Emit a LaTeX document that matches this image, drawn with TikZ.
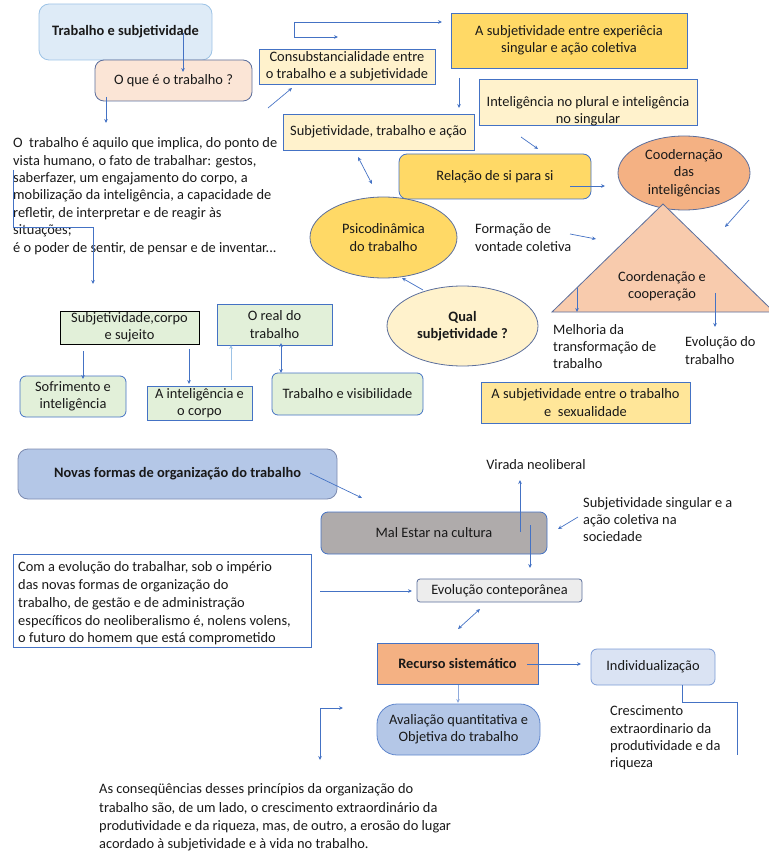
\documentclass[tikz,border=0pt]{standalone}
\usepackage{fontspec}
\setmainfont{Carlito}
\usetikzlibrary{shapes.geometric,arrows.meta}
\definecolor{arrowblue}{HTML}{4472C4}
\definecolor{paleline}{HTML}{9DC3E6}
\definecolor{slate}{HTML}{5B6E9C}
\definecolor{paleblue}{HTML}{DEEBF7}
\definecolor{peach}{HTML}{FBE5D6}
\definecolor{cream}{HTML}{FFF2CC}
\definecolor{gold}{HTML}{FFD966}
\definecolor{lightgold}{HTML}{FFE699}
\definecolor{salmon}{HTML}{F4B183}
\definecolor{lightsalmon}{HTML}{F8CBAD}
\definecolor{mint}{HTML}{E2F0D9}
\definecolor{steel}{HTML}{B4C7E7}
\definecolor{ice}{HTML}{DAE3F3}
\definecolor{stone}{HTML}{AFABAB}
\definecolor{smoke}{HTML}{EDEDED}
\newcommand\fs{\fontsize{14.4}{17.4}\selectfont}
\newcommand\fsb{\fontsize{14.4}{17.75}\selectfont}
\newcommand\fsc{\fontsize{14.4}{18.3}\selectfont}
\tikzset{
  txt/.style={font=\fs, inner sep=0pt, text=black!90},
  box/.style={draw=arrowblue, line width=0.8pt, font=\fs, align=center, inner sep=1pt, text=black!90},
  ybox/.style={box, fill=cream},
  gbox/.style={box, fill=mint},
  rbox/.style={box, rounded corners=#1},
  rbox/.default=7pt,
  oval/.style={box, ellipse, inner sep=0pt},
  link/.style={draw=arrowblue, line width=0.7pt, -{Stealth[length=4pt,width=3.6pt]}},
  twoway/.style={link, {Stealth[length=4pt,width=3.6pt]}-{Stealth[length=4pt,width=3.6pt]}},
  plain/.style={draw=arrowblue, line width=0.8pt}
}
\begin{document}
\begin{tikzpicture}[x=1pt,y=-1pt]
  \useasboundingbox (0,0) rectangle (768,866);
  % upper half
  \node[rbox=10pt, fill=paleblue, draw=paleline, minimum width=173, minimum height=56, font=\fs\bfseries] (trab) at (125.5,32) {Trabalho e subjetividade};
  \node[rbox=9pt, fill=peach, draw=slate, minimum width=157, minimum height=41] (oque) at (173.5,80.5) {O que é o trabalho ?};
  \node[txt, align=left, anchor=west] (defin) at (13,196) {O\ \ trabalho é aquilo que implica, do ponto de\\vista humano, o fato de trabalhar: gestos,\\saberfazer, um engajamento do corpo, a\\mobilização da inteligência, a capacidade de\\refletir, de interpretar e de reagir às\\situações;\\é o poder de sentir, de pensar e de inventar...};
  \node[ybox, minimum width=176, minimum height=35] (consub) at (347,66.5) {Consubstancialidade entre\\o trabalho e a subjetividade};
  \node[box, fill=gold, minimum width=236, minimum height=55] (asub) at (569,40.5) {A subjetividade entre experiêcia\\singular e ação coletiva};
  \node[ybox, minimum width=218, minimum height=46] (intel) at (588,102) {};
  \node[txt, align=center] (intelT) at (588,111) {Inteligência no plural e inteligência\\no singular};
  \node[ybox, minimum width=191, minimum height=36] (subtr) at (378.5,132) {Subjetividade, trabalho e ação};
  \node[rbox=8pt, fill=gold, minimum width=192, minimum height=45] (relacao) at (495,176.5) {Relação de si para si};
  \node[oval, fill=salmon, draw=slate, minimum width=132, minimum height=74] (coodern) at (684,173) {Coodernação\\das\\inteligências};
  \coordinate (tA) at (663,204);
  \coordinate (tB) at (552,312);
  \coordinate (tC) at (774,312);
  \draw[fill=lightsalmon, draw=slate, line width=0.8pt] (tA) -- (tB) -- (tC) -- cycle;
  \node[txt, align=center] (coop) at (662,286.5) {Coordenação e\\cooperação};
  \node[txt, align=left, anchor=west] (formacao) at (475,237.5) {Formação de\\vontade coletiva};
  \node[oval, fill=gold, draw=slate, minimum width=147, minimum height=81] (psico) at (383.5,237.5) {Psicodinâmica\\do trabalho};
  \node[oval, fill=cream, draw=slate, minimum width=151, minimum height=80, font=\fs\bfseries] (qual) at (462.5,326) {Qual\\subjetividade ?};
  \node[txt, align=left, anchor=west] (melhoria) at (553,346.5) {Melhoria da\\transformação de\\trabalho};
  \node[txt, align=left, anchor=west] (evol) at (685,350.5) {Evolução do\\trabalho};
  \node[box, fill=lightgold, minimum width=209, minimum height=41] (asex) at (585.5,402.5) {A subjetividade entre o trabalho\\e\ \ sexualidade};
  \node[gbox, draw=black, minimum width=139, minimum height=33] (subcorp) at (129.5,327.5) {Subjetividade,corpo\\e sujeito};
  \node[gbox, minimum width=115, minimum height=41] (real) at (274.5,324.5) {O real do\\trabalho};
  \node[gbox, rounded corners=6pt, minimum width=106, minimum height=41] (sofr) at (73,396.5) {Sofrimento e\\inteligência};
  \node[gbox, minimum width=105, minimum height=34] (aint) at (199.5,403) {A inteligência e\\o corpo};
  \node[gbox, rounded corners=6pt, minimum width=151, minimum height=42] (visib) at (347.5,394) {Trabalho e visibilidade};
  % lower half
  \node[rbox=10pt, fill=steel, draw=slate!80, minimum width=319, minimum height=50, font=\fs\bfseries] (novas) at (177.5,474) {Novas formas de organização do trabalho};
  \node[rbox=7pt, fill=stone, minimum width=226, minimum height=42] (mal) at (434,533) {Mal Estar na cultura};
  \node[txt] (virada) at (536,465) {Virada neoliberal};
  \node[txt, align=left, anchor=west] (subsing) at (583,519.5) {Subjetividade singular e a\\ação coletiva na\\sociedade};
  \node[box, fill=white, minimum width=298, minimum height=93] (evolbox) at (162,600.5) {};
  \node[txt, font=\fsb, align=left, anchor=west] (evoltxt) at (18,603.5) {Com a evolução do trabalhar, sob o império\\das novas formas de organização do\\trabalho, de gestão e de administração\\específicos do neoliberalismo é, nolens volens,\\o futuro do homem que está comprometido};
  \node[rbox=3pt, fill=smoke, draw=slate, minimum width=165, minimum height=23] (contep) at (499.5,590.5) {Evolução conteporânea};
  \node[box, fill=salmon, minimum width=161, minimum height=41, font=\fs\bfseries] (recurso) at (457.5,663.5) {Recurso sistemático};
  \node[rbox=6pt, fill=ice, draw=arrowblue!70, minimum width=124, minimum height=36] (indiv) at (653,667) {Individualização};
  \node[rbox=20pt, fill=steel, draw=arrowblue!85, minimum width=163, minimum height=51] (aval) at (458.5,729.5) {Avaliação quantitativa e\\Objetiva do trabalho};
  \node[txt, align=left, anchor=west] (cresc) at (610,738) {Crescimento\\extraordinario da\\produtividade e da\\riqueza};
  \node[txt, font=\fsc, align=left, anchor=west] (consq) at (99,817.5) {As conseqüências desses princípios da organização do\\trabalho são, de um lado, o crescimento extraordinário da\\produtividade e da riqueza, mas, de outro, a erosão do lugar\\acordado à subjetividade e à vida no trabalho.};
  % connector ends
  \coordinate (a1) at (183,33);   \coordinate (a2) at (183,72);
  \coordinate (b1) at (106,97);   \coordinate (b2) at (106,123);
  \coordinate (k1) at (13,170);   \coordinate (k2) at (93,227);   \coordinate (k3) at (93,284);
  \coordinate (d1) at (268,108);  \coordinate (d2) at (292,88);
  \coordinate (m0) at (294,22);   \coordinate (m1) at (338,37);   \coordinate (m2) at (442,22);
  \coordinate (f1) at (459,78);   \coordinate (f2) at (459,108);
  \coordinate (g1) at (358,157);  \coordinate (g2) at (372,184);
  \coordinate (h1) at (521,137);  \coordinate (h2) at (538,149);
  \coordinate (i1) at (570,186);  \coordinate (i2) at (605,186);
  \coordinate (j1) at (749,200);  \coordinate (j2) at (725,227);
  \coordinate (l1) at (570,234);  \coordinate (l2) at (596,239);
  \coordinate (q1) at (423,290);  \coordinate (q2) at (402,278);
  \coordinate (n1) at (577,288);  \coordinate (n2) at (577,312);
  \coordinate (n3) at (715,293);  \coordinate (n4) at (715,327);
  \coordinate (s1) at (83,351);   \coordinate (s2) at (83,379);
  \coordinate (s3) at (189,349);  \coordinate (s4) at (189,384);
  \coordinate (s5) at (231,380);  \coordinate (s6) at (231,345);
  \coordinate (s7) at (281,343);  \coordinate (s8) at (281,373);
  \coordinate (o1) at (310,473);  \coordinate (o2) at (362,498);
  \coordinate (p1) at (520,532);  \coordinate (p2) at (520,480);
  \coordinate (p3) at (530,525);  \coordinate (p4) at (530,568);
  \coordinate (r1) at (578,517);  \coordinate (r2) at (558,529);
  \coordinate (u1) at (320,591);  \coordinate (u2) at (412,591);
  \coordinate (x1) at (458,629);  \coordinate (x2) at (480,609);
  \coordinate (t1) at (527,664);  \coordinate (t2) at (581,664);
  \coordinate (y1) at (458,685);  \coordinate (y2) at (458,703);
  \coordinate (v0) at (682,685);  \coordinate (v1) at (737,755);
  \coordinate (w0) at (320,708);  \coordinate (w1) at (343,708);  \coordinate (w2) at (320,760);
  % connectors
  \path (a1) edge [link] (a2);
  \path (b1) edge [link] (b2);
  \draw[link] (k1) |- (k2) -- (k3);
  \path (d1) edge [link] (d2);
  \draw[link] (m0) |- (m1);
  \path (m0) edge [link] (m2);
  \path (f1) edge [link] (f2);
  \path (g1) edge [twoway] (g2);
  \path (h1) edge [link] (h2);
  \path (i1) edge [link] (i2);
  \path (j1) edge [link] (j2);
  \path (l1) edge [link] (l2);
  \path (q1) edge [link] (q2);
  \path (n1) edge [link] (n2);
  \path (n3) edge [link] (n4);
  \path (s1) edge [link] (s2);
  \path (s3) edge [link] (s4);
  \path (s5) edge [link, draw=paleline] (s6);
  \path (s7) edge [twoway] (s8);
  \path (o1) edge [link] (o2);
  \path (p1) edge [link] (p2);
  \path (p3) edge [link] (p4);
  \path (r1) edge [link] (r2);
  \path (u1) edge [link] (u2);
  \path (x1) edge [twoway] (x2);
  \path (t1) edge [link] (t2);
  \path (y1) edge [link, draw=arrowblue!60] (y2);
  \draw[plain] (v0) -- ++(0,17) -| (v1);
  \path (w0) edge [link] (w1);
  \path (w0) edge [link] (w2);
\end{tikzpicture}
\end{document}
